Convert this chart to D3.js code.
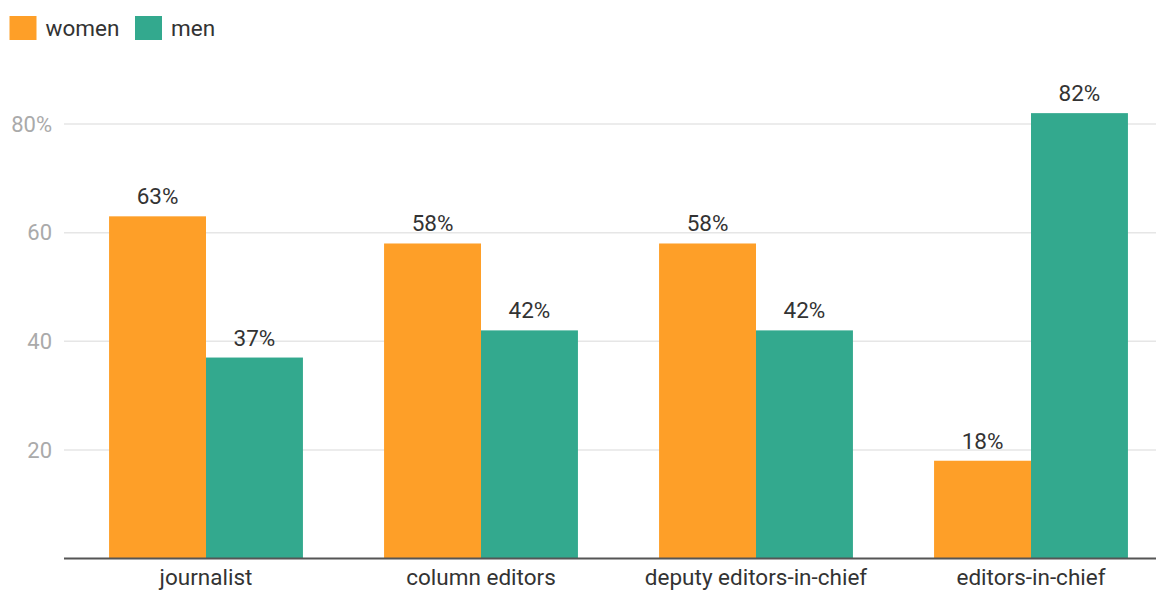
<!DOCTYPE html>
<html>
<head>
<meta charset="utf-8">
<script src="https://cdn.jsdelivr.net/npm/d3@7"></script>
<style>
  html, body { margin: 0; padding: 0; background: #fff; }
  svg { display: block; font-family: Roboto, "Noto Sans", sans-serif; }
</style>
</head>
<body>
<svg id="chart" width="1156" height="590"></svg>
<script>
// Share of women and men by newsroom role (%)
const categories = ["journalist", "column editors", "deputy editors-in-chief", "editors-in-chief"];
const seriesNames = ["women", "men"];
const women = [63, 58, 58, 18];
const men = [37, 42, 42, 82];
const yTicks = [20, 40, 60, 80];
const yTickLabels = ["20", "40", "60", "80%"];
const colors = ["#fe9f28", "#33a98e"];

const svg = d3.select("#chart");
const W = 1156, H = 590;

const x = d3.scaleBand()
  .domain(categories)
  .range([68.5, 1168.5])
  .paddingInner(0.295)
  .paddingOuter(0.1475);

const xs = d3.scaleBand()
  .domain(seriesNames)
  .range([0, x.bandwidth()]);

const y = d3.scaleLinear()
  .domain([0, 80])
  .range([558.5, 124]);

// Gridlines
svg.append("g")
  .selectAll("line")
  .data(yTicks)
  .join("line")
  .attr("x1", 64).attr("x2", W)
  .attr("y1", d => y(d)).attr("y2", d => y(d))
  .attr("stroke", "#e6e6e6")
  .attr("stroke-width", 1.5);

// Y tick labels
svg.append("g")
  .selectAll("text")
  .data(yTicks)
  .join("text")
  .attr("x", 52)
  .attr("y", d => y(d))
  .attr("dy", "0.35em")
  .attr("text-anchor", "end")
  .attr("fill", "#aaaaaa")
  .attr("font-size", 22)
  .text((d, i) => yTickLabels[i]);

// Bars
const rows = categories.map((c, i) => ({ cat: c, values: [women[i], men[i]] }));
const groups = svg.append("g")
  .selectAll("g")
  .data(rows)
  .join("g")
  .attr("transform", d => `translate(${x(d.cat)},0)`);

groups.selectAll("rect")
  .data(d => d.values.map((v, j) => ({ key: seriesNames[j], v, j })))
  .join("rect")
  .attr("x", d => xs(d.key))
  .attr("width", xs.bandwidth())
  .attr("y", d => y(d.v))
  .attr("height", d => y(0) - y(d.v))
  .attr("fill", d => colors[d.j]);

groups.selectAll("text")
  .data(d => d.values.map((v, j) => ({ key: seriesNames[j], v, j })))
  .join("text")
  .attr("x", d => xs(d.key) + xs.bandwidth() / 2)
  .attr("y", d => y(d.v) - 12)
  .attr("text-anchor", "middle")
  .attr("fill", "#333")
  .attr("font-size", 22.5)
  .text(d => d.v + "%");

// Baseline
svg.append("line")
  .attr("x1", 64).attr("x2", W)
  .attr("y1", y(0)).attr("y2", y(0))
  .attr("stroke", "#555")
  .attr("stroke-width", 2);

// Category labels
svg.append("g")
  .selectAll("text")
  .data(categories)
  .join("text")
  .attr("x", d => x(d) + x.bandwidth() / 2)
  .attr("y", 585)
  .attr("text-anchor", "middle")
  .attr("fill", "#333")
  .attr("font-size", 22.5)
  .text(d => d);

// Legend
const legendX = [9.5, 135];
const legend = svg.append("g")
  .selectAll("g")
  .data(seriesNames)
  .join("g")
  .attr("transform", (d, i) => `translate(${legendX[i]},16)`);
legend.append("rect")
  .attr("width", 27).attr("height", 24)
  .attr("fill", (d, i) => colors[i]);
legend.append("text")
  .attr("x", 36).attr("y", 19.5)
  .attr("fill", "#333")
  .attr("font-size", 22.5)
  .text(d => d);
</script>
</body>
</html>
